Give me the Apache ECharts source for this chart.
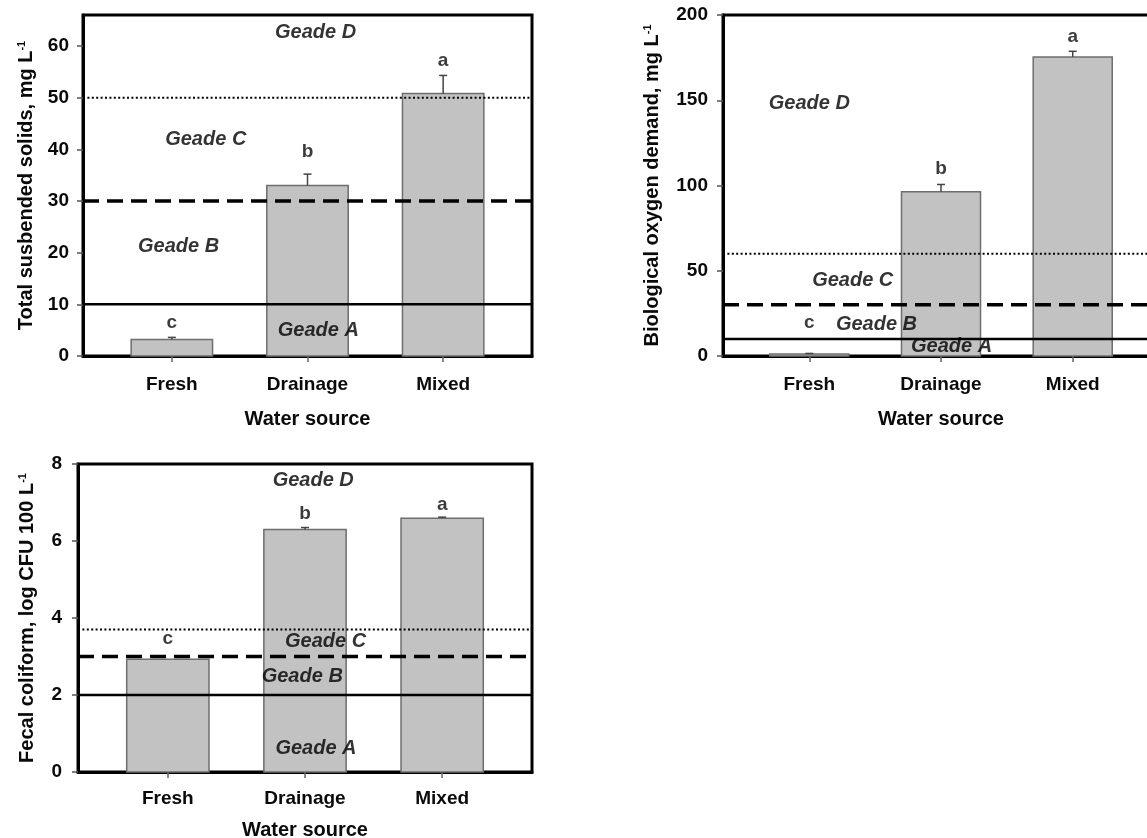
<!DOCTYPE html>
<html><head><meta charset="utf-8">
<script src="https://cdn.jsdelivr.net/npm/echarts@6/dist/echarts.min.js"></script>
<style>html,body{margin:0;padding:0;background:#fff}#c{width:1147px;height:838px}</style>
</head><body><div id="c"></div>
<script>
// ---------- data ----------
const categories = ['Fresh', 'Drainage', 'Mixed'];
const categoryPos = [0, 1, 2];
const gradeNames = ['Geade A', 'Geade B', 'Geade C', 'Geade D'];
const letters = ['c', 'b', 'a'];

// Panel 1: Total suspended solids (mg/L)
const tssMean = [3.2, 33.0, 50.8];
const tssErr = [0.4, 2.2, 3.5];
const tssLetterY = [6.4, 39.6, 57.2];
const tssLimits = [10, 30, 50];          // solid, dashed, dotted
const tssTicks = [0, 10, 20, 30, 40, 50, 60];
const tssGradeX = [1.08, 0.05, 0.25, 1.06];
const tssGradeY = [5.0, 21.1, 41.9, 62.7];

// Panel 2: Biological oxygen demand (mg/L)
const bodMean = [1.2, 96.3, 175.4];
const bodErr = [0.3, 4.3, 3.3];
const bodLetterY = [19.2, 109.6, 187.1];
const bodLimits = [10, 30, 60];
const bodTicks = [0, 50, 100, 150, 200];
const bodGradeX = [1.08, 0.51, 0.33, 0.0];
const bodGradeY = [5.5, 18.7, 44.5, 148];

// Panel 3: Fecal coliform (log CFU/100 L)
const fcMean = [2.93, 6.30, 6.59];
const fcErr = [0.0, 0.05, 0.03];
const fcLetterY = [3.47, 6.72, 6.93];
const fcLimits = [2, 3, 3.7];
const fcTicks = [0, 2, 4, 6, 8];
const fcGradeX = [1.08, 0.98, 1.15, 1.06];
const fcGradeY = [0.62, 2.49, 3.38, 7.58];

// ---------- layout / style ----------
const FONT = 'Liberation Sans, Arial, sans-serif';
const TXT = '#0a0a0a';
const panels = [
  { mean: tssMean, err: tssErr, letterY: tssLetterY, limits: tssLimits, ticks: tssTicks,
    gx: tssGradeX, gy: tssGradeY, yMax: 66,
    grid: { left: 83, top: 15, width: 449, height: 341 },
    yName: 'Total susbended solids, mg L{sup|-1}', yNameGap: 46, yLabelMargin: 14,
    xLabelMargin: 19, xNameGap: 53 },
  { mean: bodMean, err: bodErr, letterY: bodLetterY, limits: bodLimits, ticks: bodTicks,
    gx: bodGradeX, gy: bodGradeY, yMax: 200,
    grid: { left: 723, top: 15, width: 436, height: 341 },
    yName: 'Biological oxygen demand, mg L{sup|-1}', yNameGap: 60, yLabelMargin: 15,
    xLabelMargin: 19, xNameGap: 53 },
  { mean: fcMean, err: fcErr, letterY: fcLetterY, limits: fcLimits, ticks: fcTicks,
    gx: fcGradeX, gy: fcGradeY, yMax: 8,
    grid: { left: 78, top: 464, width: 454, height: 308 },
    yName: 'Fecal coliform, log CFU 100 L{sup|-1}', yNameGap: 40, yLabelMargin: 16,
    xLabelMargin: 17, xNameGap: 48 }
];
const X_MIN = -0.655, X_MAX = 2.655;
const limitStyles = [
  { type: 'solid', width: 2.5 },
  { type: [16, 8], width: 3.5 },
  { type: [2, 2.4], width: 2 }
];

function renderBar(params, api) {
  const i = api.value(0), v = api.value(1), e = api.value(2);
  const base = api.coord([i, 0]);
  const top = api.coord([i, v]);
  const errTop = api.coord([i, v + e]);
  const w = api.size([1, 0])[0] * 0.6;
  const children = [{
    type: 'rect',
    shape: { x: base[0] - w / 2, y: top[1], width: w, height: base[1] - top[1] },
    style: { fill: '#c2c2c2', stroke: '#6e6e6e', lineWidth: 1.5 }
  }];
  if (e > 0) {
    children.push({ type: 'line', shape: { x1: base[0], y1: top[1], x2: base[0], y2: errTop[1] },
      style: { stroke: '#444', lineWidth: 1.5 } });
    children.push({ type: 'line', shape: { x1: base[0] - 4, y1: errTop[1], x2: base[0] + 4, y2: errTop[1] },
      style: { stroke: '#444', lineWidth: 1.5 } });
  }
  return { type: 'group', children };
}

const grids = [], xAxes = [], yAxes = [], series = [];
panels.forEach((p, k) => {
  grids.push(Object.assign({ show: true, borderColor: '#000', borderWidth: 3,
    containLabel: false, outerBoundsMode: 'none' }, p.grid));
  xAxes.push({
    type: 'value', gridIndex: k, min: X_MIN, max: X_MAX,
    axisLine: { show: true, onZero: false, lineStyle: { color: '#000', width: 3 } },
    axisTick: { show: true, customValues: categoryPos, length: 6, lineStyle: { color: '#666', width: 1.5 } },
    axisLabel: { customValues: categoryPos, formatter: v => categories[Math.round(v)],
      fontSize: 19, fontWeight: 'bold', color: TXT, fontFamily: FONT, margin: p.xLabelMargin },
    splitLine: { show: false },
    name: 'Water source', nameLocation: 'middle', nameGap: p.xNameGap,
    nameTextStyle: { fontSize: 20, fontWeight: 'bold', color: TXT, fontFamily: FONT }
  });
  yAxes.push({
    type: 'value', gridIndex: k, min: 0, max: p.yMax,
    axisLine: { show: true, onZero: false, lineStyle: { color: '#000', width: 3 } },
    axisTick: { show: true, customValues: p.ticks, length: 6, lineStyle: { color: '#555', width: 1.5 } },
    axisLabel: { customValues: p.ticks, fontSize: 19, fontWeight: 'bold', color: TXT, fontFamily: FONT, margin: p.yLabelMargin },
    splitLine: { show: false },
    name: p.yName, nameLocation: 'middle', nameGap: p.yNameGap, nameRotate: 90,
    nameTextStyle: { fontSize: 20, fontWeight: 'bold', color: TXT, fontFamily: FONT,
      rich: { sup: { fontSize: 11, fontWeight: 'bold', color: TXT, fontFamily: FONT, padding: [0, 0, 10, 0] } } }
  });
  // bars + error bars
  series.push({
    type: 'custom', xAxisIndex: k, yAxisIndex: k, renderItem: renderBar, z: 2,
    data: categoryPos.map((x, i) => [x, p.mean[i], p.err[i]])
  });
  // guideline limits
  p.limits.forEach((y, j) => {
    series.push({
      type: 'line', xAxisIndex: k, yAxisIndex: k, symbol: 'none', z: 5, silent: true,
      data: [[X_MIN, y], [X_MAX, y]],
      lineStyle: { color: '#000', width: limitStyles[j].width, type: limitStyles[j].type }
    });
  });
  // significance letters
  series.push({
    type: 'scatter', xAxisIndex: k, yAxisIndex: k, symbolSize: 0, z: 6,
    data: categoryPos.map((x, i) => [x, p.letterY[i], letters[i]]),
    label: { show: true, position: 'inside', formatter: d => d.data[2],
      fontSize: 19, fontWeight: 'bold', color: TXT, fontFamily: FONT }
  });
  // grade labels
  series.push({
    type: 'scatter', xAxisIndex: k, yAxisIndex: k, symbolSize: 0, z: 7,
    data: gradeNames.map((g, i) => [p.gx[i], p.gy[i], g]),
    label: { show: true, position: 'inside', formatter: d => d.data[2],
      fontSize: 20, fontWeight: 'bold', fontStyle: 'italic', color: '#000', fontFamily: FONT }
  });
});

const chart = echarts.init(document.getElementById('c'), null, { renderer: 'canvas' });
chart.setOption({
  animation: false,
  backgroundColor: '#fff',
  grid: grids, xAxis: xAxes, yAxis: yAxes, series: series
});
</script>
</body></html>
